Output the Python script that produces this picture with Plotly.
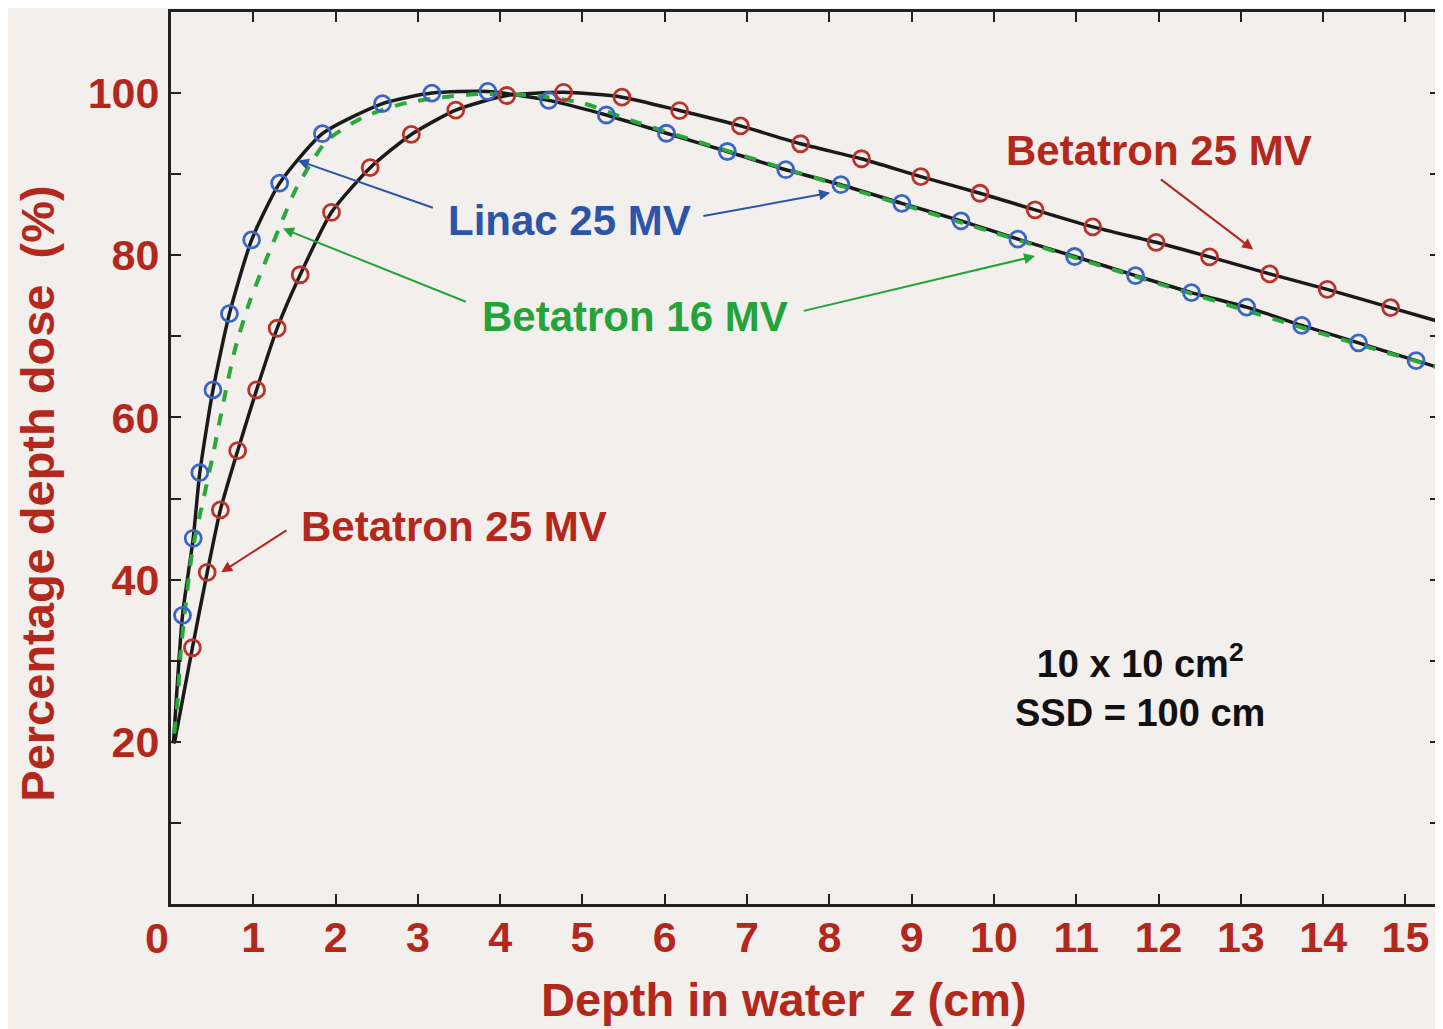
import plotly.graph_objects as go

# ---------------- data ----------------
# Linac 25 MV (blue circles)
linac_z = [0.14, 0.27, 0.35, 0.51, 0.71, 0.98, 1.32, 1.84, 2.57, 3.17, 3.85, 4.59, 5.29,
           6.02, 6.76, 7.47, 8.14, 8.88, 9.60, 10.29, 10.98, 11.72, 12.40, 13.07, 13.74, 14.43, 15.13]
linac_d = [35.6, 45.1, 53.2, 63.4, 72.8, 81.9, 88.9, 95.0, 98.7, 100.0, 100.2, 99.1, 97.3,
           95.05, 92.8, 90.55, 88.7, 86.4, 84.25, 82.0, 79.85, 77.5, 75.4, 73.6, 71.35, 69.2, 67.0]
# Betatron 25 MV (red circles)
beta25_z = [0.26, 0.44, 0.60, 0.81, 1.04, 1.29, 1.57, 1.95, 2.42, 2.92, 3.46, 4.08, 4.77, 5.48,
            6.18, 6.92, 7.65, 8.39, 9.11, 9.83, 10.50, 11.20, 11.97, 12.62, 13.35, 14.05, 14.82]
beta25_d = [31.6, 40.9, 48.6, 55.9, 63.4, 71.0, 77.6, 85.3, 90.8, 94.9, 97.9, 99.7, 100.1, 99.5,
            97.85, 95.95, 93.75, 91.9, 89.7, 87.65, 85.6, 83.5, 81.6, 79.8, 77.7, 75.8, 73.55]
# fitted curve end points (surface and right edge)
linac_curve_start = (0.03, 19.8)
linac_curve_end = (15.45, 66.0)
beta25_curve_start = (0.04, 19.8)
beta25_curve_end = (15.45, 71.7)
# Betatron 16 MV (green dashed)
beta16_z = [0.04, 0.08, 0.12, 0.18, 0.26, 0.40, 0.52, 0.66, 0.78, 0.96, 1.32, 1.53, 1.89, 2.33,
            2.82, 3.30, 3.78, 4.39, 4.99, 5.60, 6.50, 8.00, 10.00, 12.00, 14.00, 15.45]
beta16_d = [21.0, 25.1, 31.3, 37.1, 43.6, 50.2, 55.9, 63.0, 68.5, 74.4, 83.5, 88.4, 94.1, 97.0,
            98.7, 99.5, 99.9, 99.7, 98.8, 96.6, 93.7, 89.0, 82.8, 76.5, 70.3, 66.0]

x_ticks = list(range(1, 16))
y_ticks = [20, 40, 60, 80, 100]
y_minor_ticks = [10, 30, 50, 70, 90]

# ---------------- style ----------------
BG = "#f2efec"
RED_TXT = "#b2281d"
BLUE_TXT = "#2c55a8"
GREEN_TXT = "#25a33a"
RED_MK = "#b8342b"
BLUE_MK = "#3b66c2"
GREEN_LN = "#2aa83c"
FONT = "Liberation Sans"

fig = go.Figure()

lx = [linac_curve_start[0]] + linac_z + [linac_curve_end[0]]
ly = [linac_curve_start[1]] + linac_d + [linac_curve_end[1]]
bx = [beta25_curve_start[0]] + beta25_z + [beta25_curve_end[0]]
by = [beta25_curve_start[1]] + beta25_d + [beta25_curve_end[1]]

fig.add_trace(go.Scatter(x=lx, y=ly, mode="lines", line=dict(color="#1a1a1a", width=3.5, shape="spline", smoothing=0.6),
                         name="Linac 25 MV fit", showlegend=False, hoverinfo="skip"))
fig.add_trace(go.Scatter(x=bx, y=by, mode="lines", line=dict(color="#1a1a1a", width=3.5, shape="spline", smoothing=0.6),
                         name="Betatron 25 MV fit", showlegend=False, hoverinfo="skip"))
fig.add_trace(go.Scatter(x=beta16_z, y=beta16_d, mode="lines",
                         line=dict(color=GREEN_LN, width=4, dash="dash", shape="spline", smoothing=0.6),
                         name="Betatron 16 MV", showlegend=False))
fig.add_trace(go.Scatter(x=linac_z, y=linac_d, mode="markers",
                         marker=dict(symbol="circle-open", size=16, line=dict(color=BLUE_MK, width=2.8), color=BLUE_MK),
                         name="Linac 25 MV", showlegend=False))
fig.add_trace(go.Scatter(x=beta25_z, y=beta25_d, mode="markers",
                         marker=dict(symbol="circle-open", size=16, line=dict(color=RED_MK, width=2.8), color=RED_MK),
                         name="Betatron 25 MV", showlegend=False))

# ---------------- annotations ----------------
def label(x, y, text, color, size=42):
    fig.add_annotation(x=x, y=y, xref="x", yref="y", text=text, showarrow=False,
                       font=dict(family=FONT, size=size, color=color, weight="bold"))

def arrow(x0, y0, x1, y1, color):
    fig.add_annotation(x=x1, y=y1, ax=x0, ay=y0, xref="x", yref="y", axref="x", ayref="y",
                       text="", showarrow=True, arrowhead=2, arrowsize=1.1, arrowwidth=2, arrowcolor=color)

label(4.84, 84.3, "Linac 25 MV", BLUE_TXT)
arrow(3.20, 85.8, 1.54, 91.7, BLUE_TXT)
arrow(6.45, 84.8, 8.01, 87.7, BLUE_TXT)

label(5.64, 72.5, "Betatron 16 MV", GREEN_TXT)
arrow(3.60, 74.2, 1.36, 83.3, GREEN_TXT)
arrow(7.67, 73.1, 10.50, 79.9, GREEN_TXT)

label(3.44, 46.5, "Betatron 25 MV", RED_TXT)
arrow(1.42, 46.2, 0.61, 40.9, RED_TXT)

label(12.01, 92.9, "Betatron 25 MV", RED_TXT)
arrow(12.01, 89.5, 13.15, 80.7, RED_TXT)

fig.add_annotation(x=11.78, y=27.0, xref="x", yref="y",
                   text="10 x 10 cm<sup>2</sup><br>SSD = 100 cm", showarrow=False, align="center",
                   font=dict(family=FONT, size=38, color="#111111", weight="bold"))

# "0" origin label, slightly left of the axis
fig.add_annotation(x=0, y=0, xref="x", yref="y", text="0", showarrow=False, xshift=-14, yshift=-34,
                   font=dict(family=FONT, size=43, color=RED_TXT, weight="bold"))

# axis titles
fig.add_annotation(x=0, y=0.46, xref="paper", yref="paper", xanchor="center", yanchor="middle",
                   xshift=-133, text="Percentage depth dose  (%)",
                   textangle=-90, showarrow=False,
                   font=dict(family=FONT, size=47, color=RED_TXT, weight="bold"))
fig.add_annotation(x=7.45, y=0, xref="x", yref="paper", xanchor="center", yanchor="middle",
                   yshift=-95, text="Depth in water  <i>z</i> (cm)", showarrow=False,
                   font=dict(family=FONT, size=47, color=RED_TXT, weight="bold"))

fig.update_layout(
    width=1435, height=1021,
    margin=dict(l=163, r=0, t=4, b=125),
    paper_bgcolor=BG, plot_bgcolor=BG,
    showlegend=False,
    xaxis=dict(range=[0, 15.42], tickmode="array", tickvals=x_ticks, ticktext=[str(v) for v in x_ticks],
               ticks="inside", ticklen=10, tickwidth=2, tickcolor="#222",
               showline=True, linecolor="#222", linewidth=3, mirror="ticks",
               showgrid=False, zeroline=False,
               tickfont=dict(family=FONT, size=43, color=RED_TXT, weight="bold")),
    yaxis=dict(range=[0, 110], tickmode="array", tickvals=y_ticks, ticktext=[str(v) for v in y_ticks],
               ticks="inside", ticklen=10, tickwidth=2, tickcolor="#222",
               minor=dict(tickmode="array", tickvals=y_minor_ticks, ticks="inside", ticklen=10,
                          tickwidth=2, tickcolor="#222"),
               showline=True, linecolor="#222", linewidth=3, mirror="ticks",
               showgrid=False, zeroline=False,
               tickfont=dict(family=FONT, size=43, color=RED_TXT, weight="bold")),
)

try:
    fig.update_xaxes(ticklabelstandoff=-7)
except Exception:
    pass

fig.write_html("out.html")
